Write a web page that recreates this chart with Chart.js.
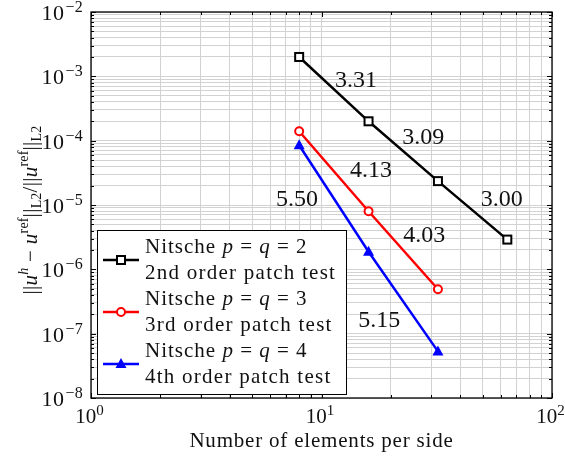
<!DOCTYPE html>
<html><head><meta charset="utf-8">
<script src="https://cdn.jsdelivr.net/npm/chart.js@4.4.0/dist/chart.umd.min.js"></script>
<style>html,body{margin:0;padding:0;background:#fff}#wrap{width:565px;height:456px}</style>
</head><body><div id="wrap"><canvas id="c"></canvas></div>
<script>
// ---- data ----
const elements2 = [8, 16, 32, 64];
const err2 = [2.0e-3, 2.0e-4, 2.35e-5, 2.9e-6];
const elements3 = [8, 16, 32];
const err3 = [1.4e-4, 8.0e-6, 4.9e-7];
const elements4 = [8, 16, 32];
const err4 = [8.5e-5, 1.88e-6, 5.3e-8];
const seriesNames = ['Nitsche p = q = 2', 'Nitsche p = q = 3', 'Nitsche p = q = 4'];
const seriesSub = ['2nd order patch test', '3rd order patch test', '4th order patch test'];
const rateLabels = ['3.31', '3.09', '3.00', '4.13', '4.03', '5.50', '5.15'];
const rateX = [14.1, 27.6, 60.6, 16.4, 27.9, 7.83, 17.8];
const rateY = [8.7e-4, 1.1e-4, 1.2e-5, 3.4e-5, 3.3e-6, 1.2e-5, 1.6e-7];
const xExp = [0, 1, 2];
const yExp = [-8, -7, -6, -5, -4, -3, -2];

const SERIF = '"Liberation Serif", "DejaVu Serif", serif';
const colors = ['#000000', '#ff0000', '#0000ff'];

function pts(xs, ys) { return xs.map((x, i) => ({x, y: ys[i]})); }

function logTicks(minE, maxE) {
  const t = [];
  for (let e = minE; e < maxE; e++) for (let m = 1; m < 10; m++) t.push(m * Math.pow(10, e));
  t.push(Math.pow(10, maxE));
  return t;
}

function setFont(ctx, s, base, ls) {
  ctx.font = (s.i ? 'italic ' : '') + (s.s || base) + 'px ' + SERIF;
  if ('letterSpacing' in ctx) ctx.letterSpacing = (s.s ? ls * 0.6 : ls) + 'px';
}
function richWidth(ctx, segs, base, ls) {
  let w = 0;
  for (const s of segs) { setFont(ctx, s, base, ls); w += ctx.measureText(s.t).width + (s.gap || 0); }
  return w;
}
function drawRich(ctx, segs, x, y, base, align, ls) {
  ls = ls || 0;
  const w = richWidth(ctx, segs, base, ls);
  let cx = align === 'right' ? x - w : align === 'center' ? x - w / 2 : x;
  ctx.textBaseline = 'alphabetic';
  ctx.textAlign = 'left';
  for (const s of segs) {
    setFont(ctx, s, base, ls);
    ctx.fillText(s.t, cx, y + (s.dy || 0));
    cx += ctx.measureText(s.t).width + (s.gap || 0);
  }
  if ('letterSpacing' in ctx) ctx.letterSpacing = '0px';
}

function drawMarker(ctx, kind, x, y, color) {
  ctx.save();
  ctx.lineWidth = 2;
  ctx.strokeStyle = color;
  if (kind === 'rect') {
    ctx.fillStyle = '#fff';
    ctx.fillRect(x - 4, y - 4, 8, 8); ctx.strokeRect(x - 4, y - 4, 8, 8);
  } else if (kind === 'circle') {
    ctx.fillStyle = '#fff';
    ctx.beginPath(); ctx.arc(x, y, 4, 0, Math.PI * 2); ctx.fill(); ctx.stroke();
  } else {
    ctx.fillStyle = color;
    ctx.beginPath(); ctx.moveTo(x, y - 6); ctx.lineTo(x + 5.5, y + 4); ctx.lineTo(x - 5.5, y + 4); ctx.closePath(); ctx.fill();
  }
  ctx.restore();
}

const styles = ['rect', 'circle', 'triangle'];

const decor = {
  id: 'decor',
  afterDatasetsDraw(chart) {
    const ctx = chart.ctx, a = chart.chartArea;
    const xs = chart.scales.x, ys = chart.scales.y;
    // markers
    chart.data.datasets.forEach((ds, k) => {
      ds.data.forEach(p => drawMarker(ctx, styles[k], xs.getPixelForValue(p.x), ys.getPixelForValue(p.y), colors[k]));
    });
    // rate labels
    ctx.fillStyle = '#111';
    rateLabels.forEach((t, i) => {
      ctx.font = '24px ' + SERIF; ctx.textAlign = 'center'; ctx.textBaseline = 'middle';
      ctx.fillText(t, xs.getPixelForValue(rateX[i]), ys.getPixelForValue(rateY[i]));
    });
    // ticks (inward) and frame
    ctx.save();
    ctx.strokeStyle = '#000'; ctx.lineWidth = 1;
    ctx.beginPath();
    for (const v of logTicks(0, 2)) {
      const px = Math.round(xs.getPixelForValue(v)) + 0.5;
      const major = Math.abs(Math.log10(v) - Math.round(Math.log10(v))) < 1e-9;
      const L = major ? 5 : 3;
      ctx.moveTo(px, a.bottom); ctx.lineTo(px, a.bottom - L);
      ctx.moveTo(px, a.top); ctx.lineTo(px, a.top + L);
    }
    for (const v of logTicks(-8, -2)) {
      const py = Math.round(ys.getPixelForValue(v)) + 0.5;
      const major = Math.abs(Math.log10(v) - Math.round(Math.log10(v))) < 1e-9;
      const L = major ? 5 : 3;
      ctx.moveTo(a.left, py); ctx.lineTo(a.left + L, py);
      ctx.moveTo(a.right, py); ctx.lineTo(a.right - L, py);
    }
    ctx.stroke();
    ctx.lineWidth = 1.3;
    ctx.strokeRect(a.left, a.top, a.right - a.left, a.bottom - a.top);
    ctx.restore();

    // legend
    const lx = 97, ly = 230, lw = 249, lh = 164;
    ctx.save();
    ctx.fillStyle = '#fff'; ctx.fillRect(lx, ly, lw, lh);
    ctx.strokeStyle = '#000'; ctx.lineWidth = 1; ctx.strokeRect(lx + 0.5, ly + 0.5, lw, lh);
    for (let k = 0; k < 3; k++) {
      const cy = ly + 30 + k * 52;
      ctx.strokeStyle = colors[k]; ctx.lineWidth = 2.5;
      ctx.beginPath(); ctx.moveTo(lx + 6, cy); ctx.lineTo(lx + 42, cy); ctx.stroke();
      drawMarker(ctx, styles[k], lx + 24, cy, colors[k]);
      ctx.fillStyle = '#111';
      const parts = seriesNames[k].split(' ');
      drawRich(ctx, [{t: parts[0] + ' '}, {t: parts[1], i: true}, {t: ' ' + parts[2] + ' '}, {t: parts[3], i: true}, {t: ' ' + parts[4] + ' ' + parts[5]}], lx + 48, cy - 7, 21, 'left', 1);
      drawRich(ctx, [{t: seriesSub[k]}], lx + 48, cy + 19, 21, 'left', 1.25);
    }
    ctx.restore();

    // tick labels
    ctx.fillStyle = '#111';
    yExp.forEach(e => {
      const py = ys.getPixelForValue(Math.pow(10, e));
      drawRich(ctx, [{t: '10', gap: 1}, {t: '\u2212' + Math.abs(e), s: 16, dy: -8}], a.left - 8, py + 8, 22, 'right', 0.5);
    });
    xExp.forEach(e => {
      const px = xs.getPixelForValue(Math.pow(10, e));
      drawRich(ctx, [{t: '10'}, {t: String(e), s: 15, dy: -8}], px - 1.5, a.bottom + 25, 21, 'center', 0);
    });
    // axis titles
    drawRich(ctx, [{t: 'Number of elements per side'}], (a.left + a.right) / 2, a.bottom + 49, 21, 'center', 0.8);
    ctx.save();
    ctx.translate(37, (a.top + a.bottom) / 2 + 5);
    ctx.rotate(-Math.PI / 2);
    drawRich(ctx, [
      {t: '||'}, {t: 'u', i: true}, {t: 'h', i: true, s: 14, dy: -9}, {t: ' \u2212 '}, {t: 'u', i: true},
      {t: 'ref', s: 14, dy: -9}, {t: '||'}, {t: 'L2', s: 14, dy: 4}, {t: '/||'}, {t: 'u', i: true},
      {t: 'ref', s: 14, dy: -9}, {t: '||'}, {t: 'L2', s: 14, dy: 4}
    ], 0, 0, 21, 'center', 0.3);
    ctx.restore();
  }
};

const zeroSize = {
  afterFit(s) { if (s.isHorizontal()) s.height = 0; else s.width = 0; }
};

new Chart(document.getElementById('c'), {
  type: 'line',
  data: {
    datasets: [
      {label: seriesNames[0], data: pts(elements2, err2), borderColor: colors[0], borderWidth: 2.5, pointRadius: 0, tension: 0},
      {label: seriesNames[1], data: pts(elements3, err3), borderColor: colors[1], borderWidth: 2.5, pointRadius: 0, tension: 0},
      {label: seriesNames[2], data: pts(elements4, err4), borderColor: colors[2], borderWidth: 2.5, pointRadius: 0, tension: 0}
    ]
  },
  options: {
    responsive: true, maintainAspectRatio: false, animation: false,
    layout: {padding: {left: 91, right: 13, top: 12, bottom: 58}},
    plugins: {legend: {display: false}, tooltip: {enabled: false}},
    scales: {
      x: {
        type: 'logarithmic', min: 1, max: 100,
        afterBuildTicks(s) { s.ticks = logTicks(0, 2).map(v => ({value: v})); },
        ticks: {display: false},
        grid: {color: '#d2d2d2', lineWidth: 1, drawTicks: false},
        border: {display: false},
        ...zeroSize
      },
      y: {
        type: 'logarithmic', min: 1e-8, max: 1e-2,
        afterBuildTicks(s) { s.ticks = logTicks(-8, -2).map(v => ({value: v})); },
        ticks: {display: false},
        grid: {color: '#d2d2d2', lineWidth: 1, drawTicks: false},
        border: {display: false},
        ...zeroSize
      }
    }
  },
  plugins: [decor]
});
</script>
</body></html>
